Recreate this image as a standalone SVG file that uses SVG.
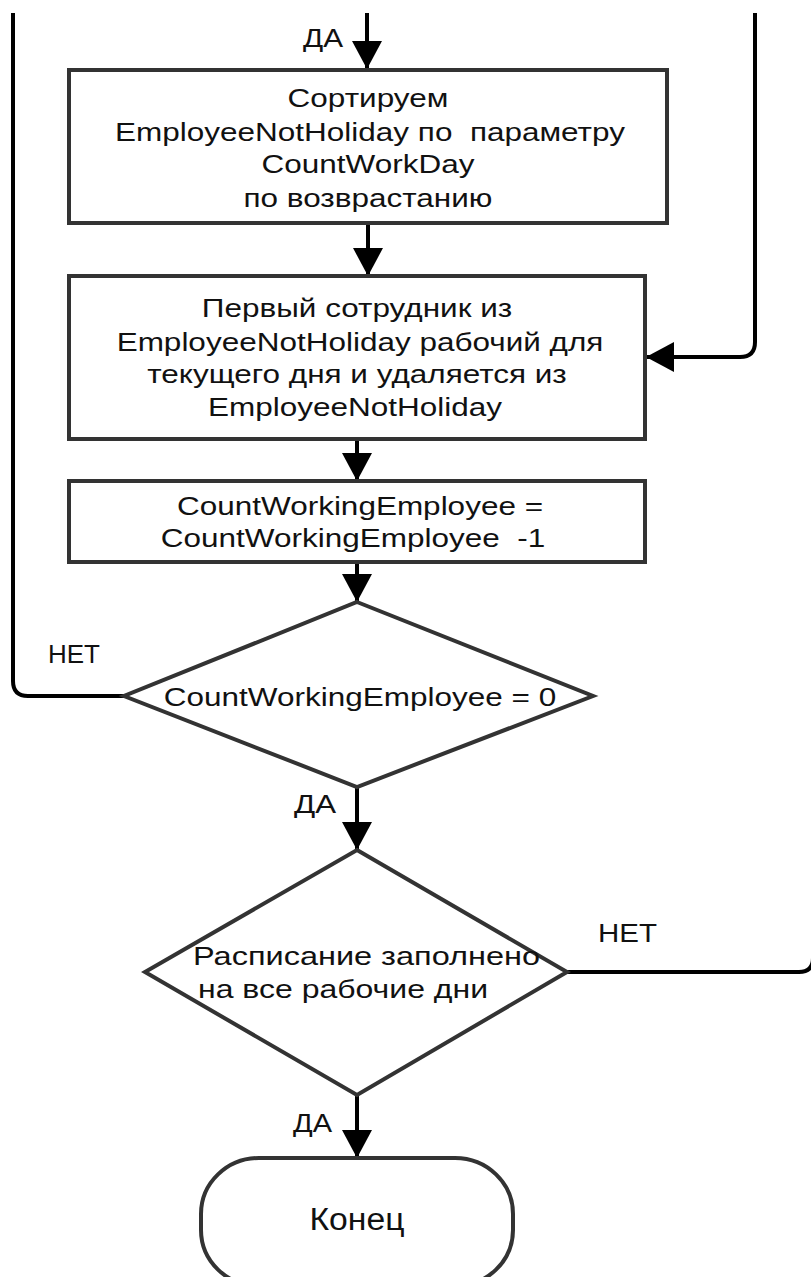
<svg xmlns="http://www.w3.org/2000/svg" width="811" height="1277" viewBox="0 0 811 1277">
  <defs>
    <style>
      .shape { fill: #ffffff; stroke: #333333; stroke-width: 4; }
      .wire { fill: none; stroke: #000000; stroke-width: 4; }
      .txt { font-family: "Liberation Sans", Arial, sans-serif; font-size: 25px; fill: #111111; white-space: pre; }
      .mid { text-anchor: middle; }
      .big { font-size: 31px; }
    </style>
    <marker id="arrow" markerUnits="userSpaceOnUse" markerWidth="28" markerHeight="30" refX="28" refY="15" orient="auto">
      <path d="M0,0 L28,15 L0,30 z" fill="#000000"/>
    </marker>
  </defs>
  <rect width="811" height="1277" fill="#ffffff"/>

  <!-- connectors -->
  <g id="connectors">
    <!-- incoming "yes" branch into the sort step -->
    <path class="wire" d="M367,13 V69" marker-end="url(#arrow)"/>
    <path class="wire" d="M368,223 V276" marker-end="url(#arrow)"/>
    <path class="wire" d="M357,439 V481" marker-end="url(#arrow)"/>
    <path class="wire" d="M357,562 V602" marker-end="url(#arrow)"/>
    <path class="wire" d="M357,787 V850" marker-end="url(#arrow)"/>
    <path class="wire" d="M357,1095 V1158" marker-end="url(#arrow)"/>
    <!-- loop back into the "first employee" step -->
    <path class="wire" d="M755,13 V342 Q755,357 740,357 H646" marker-end="url(#arrow)"/>
    <!-- "no" branch of the counter check, leaving to the left -->
    <path class="wire" d="M124,696 H28 Q13,696 13,681 V13"/>
    <!-- "no" branch of the schedule check, leaving to the right -->
    <path class="wire" d="M567,972 H799 Q813,972 813,958 V880"/>
  </g>

  <!-- edge labels -->
  <g id="labels">
    <text class="txt" x="303" y="47" textLength="40" lengthAdjust="spacingAndGlyphs">ДА</text>
    <text class="txt" x="48" y="663" textLength="52" lengthAdjust="spacingAndGlyphs">НЕТ</text>
    <text class="txt" x="294" y="813" textLength="42" lengthAdjust="spacingAndGlyphs">ДА</text>
    <text class="txt" x="598" y="942" textLength="59" lengthAdjust="spacingAndGlyphs">НЕТ</text>
    <text class="txt" x="293" y="1132" textLength="39" lengthAdjust="spacingAndGlyphs">ДА</text>
  </g>

  <!-- sort step -->
  <g id="sort">
    <rect class="shape" x="69" y="70" width="598" height="153"/>
    <text class="txt mid" transform="translate(368,107) scale(1.26,1)">Сортируем</text>
    <text class="txt mid" transform="translate(370,141) scale(1.26,1)">EmployeeNotHoliday по  параметру</text>
    <text class="txt mid" transform="translate(368,173) scale(1.26,1)">CountWorkDay</text>
    <text class="txt mid" transform="translate(368,207) scale(1.26,1)">по возврастанию</text>
  </g>

  <!-- pick first employee -->
  <g id="pick">
    <rect class="shape" x="69" y="276" width="576" height="163"/>
    <text class="txt mid" transform="translate(357,317) scale(1.26,1)">Первый сотрудник из</text>
    <text class="txt mid" transform="translate(360,351) scale(1.26,1)">EmployeeNotHoliday рабочий для</text>
    <text class="txt mid" transform="translate(357,383) scale(1.26,1)">текущего дня и удаляется из</text>
    <text class="txt mid" transform="translate(355,416) scale(1.26,1)">EmployeeNotHoliday</text>
  </g>

  <!-- decrement counter -->
  <g id="decrement">
    <rect class="shape" x="69" y="481" width="576" height="81"/>
    <text class="txt mid" transform="translate(360,515) scale(1.26,1)">CountWorkingEmployee =</text>
    <text class="txt mid" transform="translate(353,547) scale(1.26,1)">CountWorkingEmployee  -1</text>
  </g>

  <!-- counter check -->
  <g id="check-count">
    <polygon class="shape" points="357,602 593,696 357,787 124,696"/>
    <text class="txt mid" transform="translate(360,706) scale(1.26,1)">CountWorkingEmployee = 0</text>
  </g>

  <!-- schedule check -->
  <g id="check-schedule">
    <polygon class="shape" points="357,850 567,972 357,1095 145,972"/>
    <text class="txt" x="193" y="965" textLength="347" lengthAdjust="spacingAndGlyphs">Расписание заполнено</text>
    <text class="txt" x="198" y="998" textLength="290" lengthAdjust="spacingAndGlyphs">на все рабочие дни</text>
  </g>

  <!-- end terminal -->
  <g id="end">
    <rect class="shape" x="201" y="1158" width="312" height="128" rx="58" ry="56"/>
    <text class="txt big mid" x="357" y="1230" textLength="95" lengthAdjust="spacingAndGlyphs">Конец</text>
  </g>
</svg>
